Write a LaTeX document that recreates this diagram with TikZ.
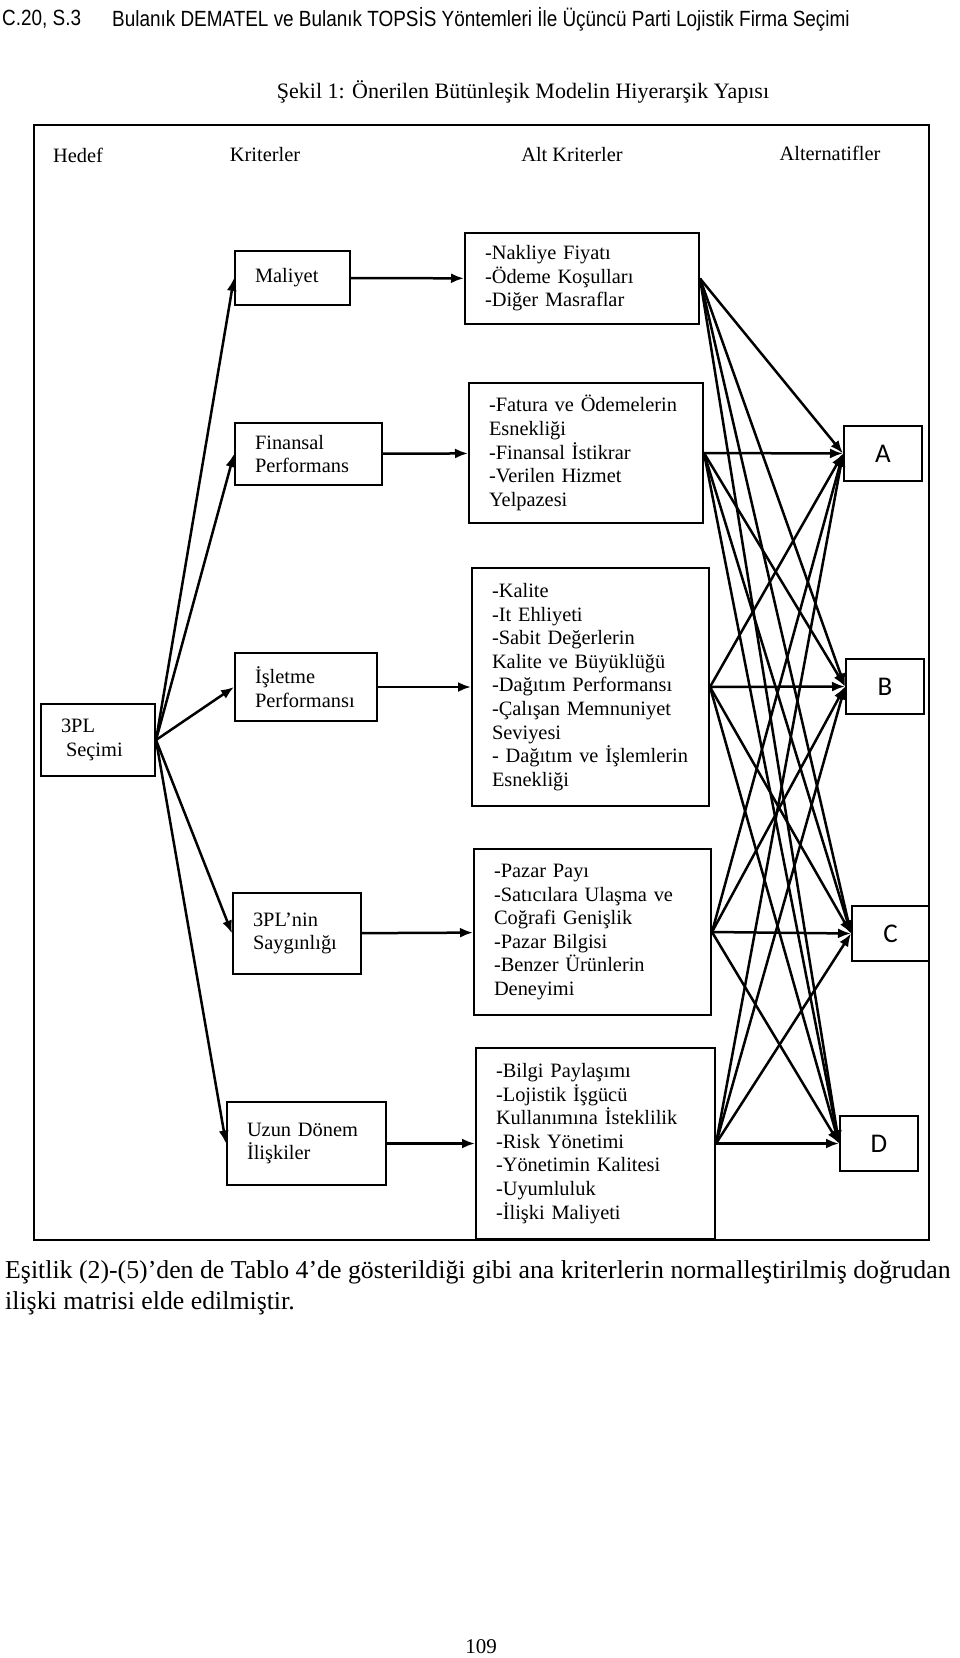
\documentclass[tikz,border=0pt]{standalone}
\usepackage{fontspec}
\setmainfont{Liberation Serif}
\newfontfamily\arialfont[FakeStretch=0.86]{Liberation Sans}
\newfontfamily\calibrifont{Carlito}
\usetikzlibrary{arrows.meta}

\begin{document}
\begin{tikzpicture}[x=1pt, y=-1pt, >={Latex[length=13pt,width=10pt]}]
    \tikzstyle{txt} = [inner sep=0pt, font=\fontsize{20.4}{23.6}\selectfont]
    \tikzstyle{format} = [draw, line width=2pt, align=left, inner xsep=20pt, inner ysep=0pt, font=\fontsize{20.4}{23.6}\selectfont]
    \tikzstyle{alt} = [draw, line width=2pt, minimum width=78pt, minimum height=55pt, inner sep=0pt, font=\calibrifont\fontsize{27}{30}\selectfont]
    \tikzstyle{link} = [->, line width=2.5pt]

    \useasboundingbox (0,0) rectangle (960,1658);

    % page head, caption and text below
    \node[inner sep=0pt, anchor=west, font=\arialfont\fontsize{22}{25}\selectfont] (no) at (2,19) {C.20, S.3};
    \node[inner sep=0pt, anchor=west, font=\arialfont\fontsize{22}{25}\selectfont] (head) at (112,19) {Bulanık DEMATEL ve Bulanık TOPSİS Yöntemleri İle Üçüncü Parti Lojistik Firma Seçimi};
    \node[inner sep=0pt, font=\fontsize{22}{26}\selectfont] (caption) at (523,92) {Şekil 1: Önerilen Bütünleşik Modelin Hiyerarşik Yapısı};
    \node[inner sep=0pt, anchor=west, font=\fontsize{25.8}{31}\selectfont] (p1) at (5,1272) {Eşitlik (2)-(5)’den de Tablo 4’de gösterildiği gibi ana kriterlerin normalleştirilmiş doğrudan};
    \node[inner sep=0pt, anchor=west, font=\fontsize{25.8}{31}\selectfont] (p2) at (5,1303) {ilişki matrisi elde edilmiştir.};
    \node[inner sep=0pt, font=\fontsize{21}{25}\selectfont] (page) at (481,1647) {109};

    % frame and column heads
    \draw[line width=2pt] (34,125) rectangle (929,1240);
    \node[txt, anchor=west] (h1) at (53,155) {Hedef};
    \node[txt] (h2) at (265,155) {Kriterler};
    \node[txt] (h3) at (572,155) {Alt Kriterler};
    \node[txt] (h4) at (830,153) {Alternatifler};

    \begin{scope}
        \path[link]
          node[format, text width=74pt, minimum height=72pt] (G) at (98,740) {3PL\\\hspace*{5pt}Seçimi}

          node[format, text width=75pt, minimum height=54pt] (K1) at (292.5,278) {Maliyet}
          node[format, text width=107pt, minimum height=62pt] (K2) at (308.5,454) {Finansal\\Performans}
          node[format, text width=102pt, minimum height=68pt] (K3) at (306,687) {İşletme\\Performansı}
          node[format, text width=88pt, minimum height=81pt] (K4) at (297,933.5) {3PL’nin\\Saygınlığı}
          node[format, text width=119pt, minimum height=83pt] (K5) at (306.5,1143.5) {Uzun Dönem\\İlişkiler}

          node[format, text width=194pt, minimum height=91pt] (S1) at (582,278.5) {-Nakliye Fiyatı\\-Ödeme Koşulları\\-Diğer Masraflar}
          node[format, text width=194pt, minimum height=140pt] (S2) at (586,453) {-Fatura ve Ödemelerin\\Esnekliği\\-Finansal İstikrar\\-Verilen Hizmet\\Yelpazesi}
          node[format, text width=197pt, minimum height=238pt] (S3) at (590.5,687) {-Kalite\\-It Ehliyeti\\-Sabit Değerlerin\\Kalite ve Büyüklüğü\\-Dağıtım Performansı\\-Çalışan Memnuniyet\\Seviyesi\\- Dağıtım ve İşlemlerin\\Esnekliği}
          node[format, text width=197pt, minimum height=166pt] (S4) at (592.5,932) {-Pazar Payı\\-Satıcılara Ulaşma ve\\Coğrafi Genişlik\\-Pazar Bilgisi\\-Benzer Ürünlerin\\Deneyimi}
          node[format, text width=199pt, minimum height=191pt] (S5) at (595.5,1143.5) {-Bilgi Paylaşımı\\-Lojistik İşgücü\\Kullanımına İsteklilik\\-Risk Yönetimi\\-Yönetimin Kalitesi\\-Uyumluluk\\-İlişki Maliyeti}

          node[alt] (A) at (883,453.5) {A}
          node[alt] (B) at (885,686.5) {B}
          node[alt, minimum width=77pt] (C) at (890.5,933.5) {C}
          node[alt] (D) at (879,1143.5) {D}

          (G.east) edge (K1.west)
          (G.east) edge (K2.west)
          (G.east) edge (K3.west)
          (G.east) edge (K4.west)
          (G.east) edge (K5.west)

          (K1) edge (S1)
          (K2) edge (S2)
          (K3) edge (S3)
          (K4) edge (S4)
          (K5) edge (S5)

          (S1.east) edge (A.west)
          (S1.east) edge (B.west)
          (S1.east) edge (C.west)
          (S1.east) edge (D.west)
          (S2.east) edge (A.west)
          (S2.east) edge (B.west)
          (S2.east) edge (C.west)
          (S2.east) edge (D.west)
          (S3.east) edge (A.west)
          (S3.east) edge (B.west)
          (S3.east) edge (C.west)
          (S3.east) edge (D.west)
          (S4.east) edge (A.west)
          (S4.east) edge (B.west)
          (S4.east) edge (C.west)
          (S4.east) edge (D.west)
          (S5.east) edge (A.west)
          (S5.east) edge (B.west)
          (S5.east) edge (C.west)
          (S5.east) edge (D.west);
    \end{scope}
\end{tikzpicture}
\end{document}
